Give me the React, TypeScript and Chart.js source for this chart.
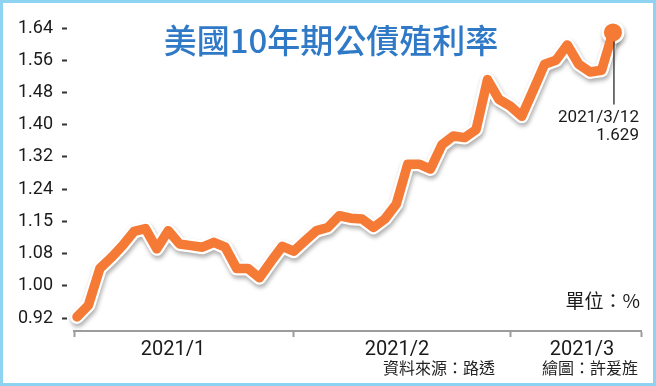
import React, { useEffect, useRef } from 'react';
import { Chart, registerables } from 'chart.js';

Chart.register(...registerables);

// Trading days, Jan 4 – Mar 12, 2021
const dates = [
  '2021/1/4', '2021/1/5', '2021/1/6', '2021/1/7', '2021/1/8', '2021/1/11', '2021/1/12', '2021/1/13',
  '2021/1/14', '2021/1/15', '2021/1/19', '2021/1/20', '2021/1/21', '2021/1/22', '2021/1/25', '2021/1/26',
  '2021/1/27', '2021/1/28', '2021/1/29',
  '2021/2/1', '2021/2/2', '2021/2/3', '2021/2/4', '2021/2/5', '2021/2/8', '2021/2/9', '2021/2/10',
  '2021/2/11', '2021/2/12', '2021/2/16', '2021/2/17', '2021/2/18', '2021/2/19', '2021/2/22', '2021/2/23',
  '2021/2/24', '2021/2/25', '2021/2/26',
  '2021/3/1', '2021/3/2', '2021/3/3', '2021/3/4', '2021/3/5', '2021/3/8', '2021/3/9', '2021/3/10',
  '2021/3/11', '2021/3/12',
];

const yields = [
  0.923, 0.952, 1.043, 1.07, 1.1, 1.135, 1.142, 1.092, 1.137, 1.104, 1.1, 1.096, 1.108, 1.096, 1.043, 1.043,
  1.02, 1.06, 1.098,
  1.086, 1.112, 1.137, 1.145, 1.174, 1.168, 1.166, 1.145, 1.166, 1.203, 1.302, 1.302, 1.29, 1.35, 1.372,
  1.368, 1.388, 1.512, 1.463,
  1.446, 1.421, 1.485, 1.55, 1.56, 1.598, 1.55, 1.531, 1.535, 1.629,
];

const yTickValues = [0.92, 1.0, 1.08, 1.16, 1.24, 1.32, 1.4, 1.48, 1.56, 1.64];
const yTickLabels = ['0.92', '1.00', '1.08', '1.15', '1.24', '1.32', '1.40', '1.48', '1.56', '1.64'];
const monthLabels = ['2021/1', '2021/2', '2021/3'];

const titleText = '美國10年期公債殖利率';
const unitText = '單位：%';
const sourceText = '資料來源：路透';
const creditText = '繪圖：許爰旌';
const lastDateText = '2021/3/12';
const lastValueText = '1.629';

// layout constants (not data)
const X_MIN = -0.263;
const X_MAX = 49.46;
const monthLabelPos = [8.42, 28.06, 44.28];

const ORANGE = '#f47a36';
const LATIN = "Roboto, 'Noto Sans CJK TC', sans-serif";
const CJK = "'Noto Sans CJK TC', Roboto, sans-serif";

const monthStarts = dates
  .map((d, i) => ({ m: d.split('/')[1], i }))
  .filter((o, i, arr) => i === 0 || o.m !== arr[i - 1].m)
  .map((o) => o.i);

const boundaryTicks = [X_MIN, ...monthStarts.slice(1), X_MAX];
const isLabelTick = (v: number) => monthLabelPos.some((p) => Math.abs(p - v) < 1e-6);

const shadowPlugin = {
  id: 'lineShadow',
  beforeDatasetDraw(chart: any, args: any) {
    if (args.index === 1) {
      const c = chart.ctx;
      c.save();
      c.shadowColor = 'rgba(0,0,0,0.32)';
      c.shadowBlur = 4;
      c.shadowOffsetX = 1;
      c.shadowOffsetY = 3;
    }
  },
  afterDatasetDraw(chart: any, args: any) {
    if (args.index === 1) chart.ctx.restore();
  },
};

const decorPlugin = {
  id: 'decor',
  beforeDraw(chart: any) {
    const c = chart.ctx;
    c.save();
    c.fillStyle = '#ffffff';
    c.fillRect(0, 0, chart.width, chart.height);
    c.restore();
  },
  afterDraw(chart: any) {
    const c = chart.ctx;
    c.save();
    // title
    c.fillStyle = '#3079c6';
    c.font = `500 33px ${CJK}`;
    c.textAlign = 'center';
    c.textBaseline = 'middle';
    c.fillText(titleText, 331, 40);

    // callout
    const meta = chart.getDatasetMeta(0);
    const pt = meta.data[meta.data.length - 1];
    c.strokeStyle = '#444';
    c.lineWidth = 1.5;
    c.beginPath();
    c.moveTo(pt.x + 1, pt.y + 9);
    c.lineTo(pt.x + 1, pt.y + 72);
    c.stroke();
    c.fillStyle = '#1a1a1a';
    c.font = `17px ${LATIN}`;
    c.textAlign = 'right';
    c.fillText(lastDateText, pt.x + 26, pt.y + 85);
    c.fillText(lastValueText, pt.x + 26, pt.y + 103);

    // unit
    c.font = `19px ${CJK}`;
    c.fillText(unitText, 640, 301);

    // source / credit
    c.font = `16px ${CJK}`;
    c.fillStyle = '#222';
    c.textAlign = 'left';
    c.fillText(sourceText, 383, 368);
    c.textAlign = 'right';
    c.fillText(creditText, 638, 368);

    // frame
    c.strokeStyle = '#8ed3f1';
    c.lineWidth = 3;
    c.strokeRect(1.5, 1.5, chart.width - 3, chart.height - 3);
    c.restore();
  },
};

export default function App() {
  const ref = useRef<HTMLCanvasElement>(null);

  useEffect(() => {
    document.body.style.margin = '0';
    const canvas = ref.current;
    if (!canvas) return;
    const points = yields.map((y, i) => ({ x: i, y }));
    const last = yields.length - 1;
    const chart = new Chart(canvas, {
      type: 'line',
      data: {
        datasets: [
          {
            data: points,
            borderColor: ORANGE,
            borderWidth: 9.5,
            borderJoinStyle: 'round',
            borderCapStyle: 'round',
            pointRadius: (ctx: any) => (ctx.dataIndex === last ? 9 : 0),
            pointBackgroundColor: ORANGE,
            pointBorderWidth: 0,
            tension: 0,
            clip: false as any,
            order: 0,
          },
          {
            data: points,
            borderColor: '#ffffff',
            borderWidth: 14,
            borderJoinStyle: 'round',
            borderCapStyle: 'round',
            pointRadius: (ctx: any) => (ctx.dataIndex === last ? 11.5 : 0),
            pointBackgroundColor: '#ffffff',
            pointBorderWidth: 0,
            tension: 0,
            clip: false as any,
            order: 1,
          },
        ],
      },
      options: {
        animation: false,
        responsive: false,
        devicePixelRatio: 1,
        layout: { padding: { left: 0, right: 15, top: 10, bottom: 0 } },
        plugins: { legend: { display: false }, tooltip: { enabled: false }, title: { display: false } },
        scales: {
          x: {
            type: 'linear',
            min: X_MIN,
            max: X_MAX,
            afterFit: (s: any) => {
              s.height = 55;
              s.paddingLeft = 0;
              s.paddingRight = 0;
            },
            afterBuildTicks: (s: any) => {
              s.ticks = [...boundaryTicks, ...monthLabelPos]
                .sort((a, b) => a - b)
                .map((v) => ({ value: v }));
            },
            border: { display: true, color: '#9c9c9c', width: 2 },
            grid: {
              drawOnChartArea: false,
              drawTicks: true,
              tickLength: 6,
              tickWidth: 2,
              tickColor: (ctx: any) => (ctx.tick && isLabelTick(ctx.tick.value) ? 'rgba(0,0,0,0)' : '#9c9c9c'),
            },
            ticks: {
              autoSkip: false,
              maxRotation: 0,
              minRotation: 0,
              padding: 1,
              color: '#1a1a1a',
              font: { family: LATIN, size: 20 },
              callback: (v: any) => {
                const k = monthLabelPos.findIndex((p) => Math.abs(p - Number(v)) < 1e-6);
                return k >= 0 ? monthLabels[k] : '';
              },
            },
          },
          y: {
            type: 'linear',
            min: 0.888,
            max: 1.681,
            afterFit: (s: any) => {
              s.width = 74;
              s.paddingTop = 0;
              s.paddingBottom = 0;
            },
            afterBuildTicks: (s: any) => {
              s.ticks = yTickValues.map((v) => ({ value: v }));
            },
            border: { display: false },
            grid: {
              drawOnChartArea: false,
              drawTicks: true,
              tickLength: 12,
              tickWidth: 2,
              tickColor: '#333',
              tickBorderDash: [5, 7],
            },
            ticks: {
              padding: 9,
              color: '#1a1a1a',
              font: { family: LATIN, size: 18 },
              callback: (_v: any, i: number) => yTickLabels[i],
            },
          },
        },
      },
      plugins: [shadowPlugin, decorPlugin],
    } as any);
    return () => chart.destroy();
  }, []);

  return (
    <div style={{ width: 656, height: 386 }}>
      <canvas ref={ref} width={656} height={386} style={{ display: 'block' }} />
    </div>
  );
}
